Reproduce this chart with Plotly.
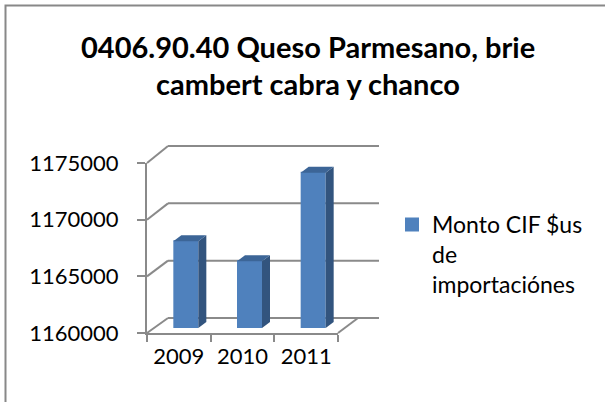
import plotly.graph_objects as go

# ---------------- data ----------------
years = ["2009", "2010", "2011"]
values = [1167650, 1165900, 1173700]
y_ticks = [1160000, 1165000, 1170000, 1175000]
series_name = "Monto CIF $us<br>de<br>importaciónes"
title_lines = ["0406.90.40 Queso Parmesano, brie", "cambert cabra y chanco"]

# ---------------- geometry (pixels) ----------------
W, H = 605, 402
X0, X1 = 147, 338          # front floor left / right
YB, YT = 333, 163          # front floor / top tick
DEPTH_X, DEPTH_Y_BOT, DEPTH_Y_TOP = 21, 15, 17   # back-wall offset
BAR_DX, BAR_DY = 7, 5      # bar plane offset from front
SIDE_X, SIDE_Y = 8, 6      # bar 3D depth
BAR_W_PX = 25
BAR_LINE = 2

GRID = "#8a8a8a"
FRONT = "#4f81bd"
SIDE = "#32547e"
TOP = "#3c6597"
FONT = "Lato"

ncat = len(years)
pcat = (X1 - X0) / ncat
ymin, ymax = y_ticks[0], y_ticks[-1]
upp = (ymax - ymin) / (YB - YT)   # value units per pixel

fig = go.Figure()

# --- visible front axes (x, y) ---
fig.add_trace(go.Scatter(x=years, y=values, xaxis="x", yaxis="y", mode="markers",
                         marker=dict(opacity=0), showlegend=False, hoverinfo="skip"))

# --- helper axes x2/y2: front mapping over full figure (for the walls) ---
x2_range = [-0.5 - X0 / pcat, -0.5 + (W - X0) / pcat]
y2_range = [ymin - (H - YB) * upp, ymin + YB * upp]
fig.add_trace(go.Scatter(x=[0], y=[ymin], xaxis="x2", yaxis="y2", mode="markers",
                         marker=dict(opacity=0), showlegend=False, hoverinfo="skip"))

# --- bar plane axes x3/y3 ---
x3_range = [x2_range[0] - BAR_DX / pcat, x2_range[1] - BAR_DX / pcat]
y3_bottom_px = YB - BAR_DY
y3_range = [ymin, ymin + y3_bottom_px * upp]
pos = list(range(ncat))
bw = BAR_W_PX / pcat
fig.add_trace(go.Bar(x=pos, y=values, xaxis="x3", yaxis="y3",
                     width=(BAR_W_PX - BAR_LINE) / pcat,
                     marker=dict(color=FRONT, line=dict(width=BAR_LINE, color=FRONT)),
                     name=series_name, showlegend=True, hoverinfo="skip"))

dx = SIDE_X / pcat
dy = SIDE_Y * upp
sx, sy, tx, ty = [], [], [], []
for i, v in zip(pos, values):
    xl, xr = i - bw / 2, i + bw / 2
    sx += [xr, xr + dx, xr + dx, xr, xr, None]
    sy += [ymin, ymin + dy, v + dy, v, ymin, None]
    tx += [xl, xl + dx, xr + dx, xr, xl, None]
    ty += [v, v + dy, v + dy, v, v, None]
fig.add_trace(go.Scatter(x=sx, y=sy, xaxis="x3", yaxis="y3", mode="lines", fill="toself",
                         fillcolor=SIDE, line=dict(width=0, color=SIDE),
                         showlegend=False, hoverinfo="skip"))
fig.add_trace(go.Scatter(x=tx, y=ty, xaxis="x3", yaxis="y3", mode="lines", fill="toself",
                         fillcolor=TOP, line=dict(width=0, color=TOP),
                         showlegend=False, hoverinfo="skip"))

# --- back wall gridlines & floor ---
shapes = []
back_len = (X1 - X0) + 20
for v in y_ticks:
    ddy = DEPTH_Y_BOT + (DEPTH_Y_TOP - DEPTH_Y_BOT) * (v - ymin) / (ymax - ymin)
    shapes.append(dict(type="line", xref="x2", yref="y2", xsizemode="pixel", ysizemode="pixel",
                       xanchor=-0.5, yanchor=v, x0=0, x1=DEPTH_X, y0=0, y1=ddy,
                       line=dict(color=GRID, width=2), layer="below"))
    shapes.append(dict(type="line", xref="x2", yref="y2", xsizemode="pixel", ysizemode="pixel",
                       xanchor=-0.5, yanchor=v, x0=DEPTH_X, x1=DEPTH_X + back_len, y0=ddy, y1=ddy,
                       line=dict(color=GRID, width=2), layer="below"))
shapes.append(dict(type="line", xref="x2", yref="y2", xsizemode="pixel", ysizemode="pixel",
                   xanchor=ncat - 0.5, yanchor=ymin, x0=0, x1=20, y0=0, y1=DEPTH_Y_BOT,
                   line=dict(color=GRID, width=2), layer="below"))
# chart border (continues past the bottom-right of the picture)
shapes.append(dict(type="rect", xref="paper", yref="paper", x0=5.5 / W, x1=1.05,
                   y0=-0.05, y1=1 - 5.5 / H, line=dict(color="#888888", width=2),
                   fillcolor="rgba(0,0,0,0)"))

annotations = [
    dict(text=title_lines[0], xref="paper", yref="paper", x=308 / W, y=1 - 46 / H,
         showarrow=False, xanchor="center", yanchor="middle",
         font=dict(family=FONT, size=29, color="black", weight="bold")),
    dict(text=title_lines[1], xref="paper", yref="paper", x=308 / W, y=1 - 84 / H,
         showarrow=False, xanchor="center", yanchor="middle",
         font=dict(family=FONT, size=29, color="black", weight="bold")),
]

fig.update_layout(
    width=W, height=H,
    margin=dict(l=0, r=0, t=0, b=0),
    template="none",
    paper_bgcolor="white", plot_bgcolor="rgba(0,0,0,0)",
    font=dict(family=FONT, color="black"),
    showlegend=True,
    legend=dict(x=392 / W, y=1 - 203 / H, xanchor="left", yanchor="top",
                valign="top", font=dict(family=FONT, size=23, color="black"),
                bgcolor="rgba(0,0,0,0)"),
    xaxis=dict(domain=[X0 / W, X1 / W], type="category", categoryarray=years,
               range=[-0.5, ncat - 0.5], tickson="boundaries", ticks="outside", ticklen=7,
               tickcolor=GRID, tickwidth=2, showline=True, linecolor=GRID, linewidth=2,
               showgrid=False, zeroline=False, anchor="y",
               tickfont=dict(family=FONT, size=22, color="black"), ticklabelstandoff=3),
    yaxis=dict(domain=[(H - YB) / H, (H - YT) / H], range=[ymin, ymax], tickvals=y_ticks,
               tickformat="d",
               ticks="outside", ticklen=8, tickcolor=GRID, tickwidth=2, showline=True,
               linecolor=GRID, linewidth=2, showgrid=False, zeroline=False, anchor="x",
               tickfont=dict(family=FONT, size=22, color="black"), ticklabelstandoff=14),
    xaxis2=dict(domain=[0, 1], range=x2_range, visible=False, anchor="y2"),
    yaxis2=dict(domain=[0, 1], range=y2_range, visible=False, anchor="x2"),
    xaxis3=dict(domain=[0, 1], range=x3_range, visible=False, anchor="y3"),
    yaxis3=dict(domain=[(H - y3_bottom_px) / H, 1], range=y3_range, visible=False, anchor="x3"),
    shapes=shapes,
    annotations=annotations,
)

fig.write_html("out.html", config={"displayModeBar": False},
               post_script="document.body.style.margin='0';document.body.style.overflow='hidden';")
